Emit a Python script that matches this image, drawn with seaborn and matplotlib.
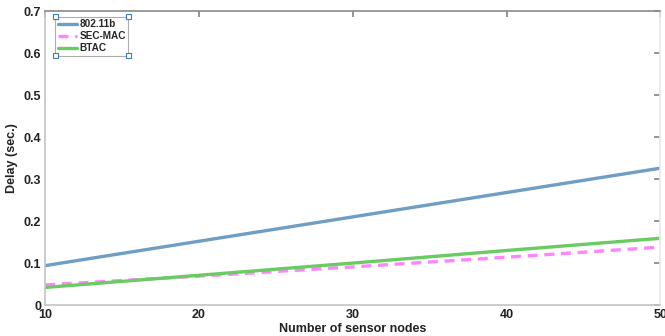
import matplotlib
matplotlib.use("Agg")
import matplotlib.pyplot as plt
import seaborn as sns
import pandas as pd
from matplotlib.patches import Rectangle

nodes = [10, 20, 30, 40, 50]
d_80211b = [0.094, 0.152, 0.210, 0.268, 0.326]
d_secmac = [0.048, 0.069, 0.091, 0.114, 0.138]
d_btac = [0.042, 0.071, 0.100, 0.130, 0.159]
series_names = ["802.11b", "SEC-MAC", "BTAC"]
x_ticks = [10, 20, 30, 40, 50]
y_ticks = [0, 0.1, 0.2, 0.3, 0.4, 0.5, 0.6, 0.7]
y_tick_labels = ["0", "0.1", "0.2", "0.3", "0.4", "0.5", "0.6", "0.7"]

df = pd.DataFrame({
    "nodes": nodes * 3,
    "delay": d_80211b + d_secmac + d_btac,
    "proto": [series_names[0]] * 5 + [series_names[1]] * 5 + [series_names[2]] * 5,
})

sns.set_theme(style="white")
plt.rcParams["font.family"] = ["Liberation Sans", "DejaVu Sans"]
plt.rcParams["font.weight"] = "bold"

fig = plt.figure(figsize=(6.65, 3.36), dpi=100)
ax = fig.add_axes([0.068, 0.092, 0.925, 0.875])

palette = {"802.11b": "#6e9ec4", "SEC-MAC": "#ff85ff", "BTAC": "#6acb63"}
sns.lineplot(data=df, x="nodes", y="delay", hue="proto", style="proto",
             palette=palette, dashes={"802.11b": "", "SEC-MAC": (3, 2), "BTAC": ""},
             linewidth=2.4, ax=ax, legend=True)

ax.set_xlim(10, 50)
ax.set_ylim(0, 0.7)
ax.set_xticks(x_ticks)
ax.set_xticklabels([str(t) for t in x_ticks], fontsize=9, fontweight="bold", color="#222222")
ax.set_yticks(y_ticks)
ax.set_yticklabels(y_tick_labels, fontsize=9, fontweight="bold", color="#222222")
ax.set_xlabel("Number of sensor nodes", fontsize=9, fontweight="bold", color="#222222", labelpad=1)
ax.set_ylabel("Delay (sec.)", fontsize=9, fontweight="bold", color="#222222", labelpad=4)
ax.tick_params(direction="in", length=4, color="#888888", top=True, right=True, pad=3)
for side, s in ax.spines.items():
    s.set_linewidth(1.2)
    s.set_color({"top": "#8a8a8a", "right": "#e8e8e8"}.get(side, "#c4c4c4"))

leg = ax.legend(loc="upper left", bbox_to_anchor=(0.016, 0.98),
                prop={"weight": "bold", "size": 7.2}, frameon=True, fancybox=False,
                borderpad=0.25, labelspacing=0.2, handlelength=1.9, handletextpad=0.3,
                borderaxespad=0)
leg.get_frame().set_edgecolor("#999999")
leg.get_frame().set_linewidth(0.8)
for h in leg.get_lines():
    h.set_linewidth(2.4)

fig.canvas.draw()
bb = leg.get_window_extent().transformed(fig.transFigure.inverted())
w, hgt = 5 / 665, 5 / 336
for (cx, cy) in [(bb.x0, bb.y0), (bb.x1, bb.y0), (bb.x0, bb.y1), (bb.x1, bb.y1)]:
    fig.patches.append(Rectangle((cx - w / 2, cy - hgt / 2), w, hgt, transform=fig.transFigure,
                                 facecolor="white", edgecolor="#3a7cc0", linewidth=0.8, zorder=10))

fig.savefig("out.png", dpi=100)
